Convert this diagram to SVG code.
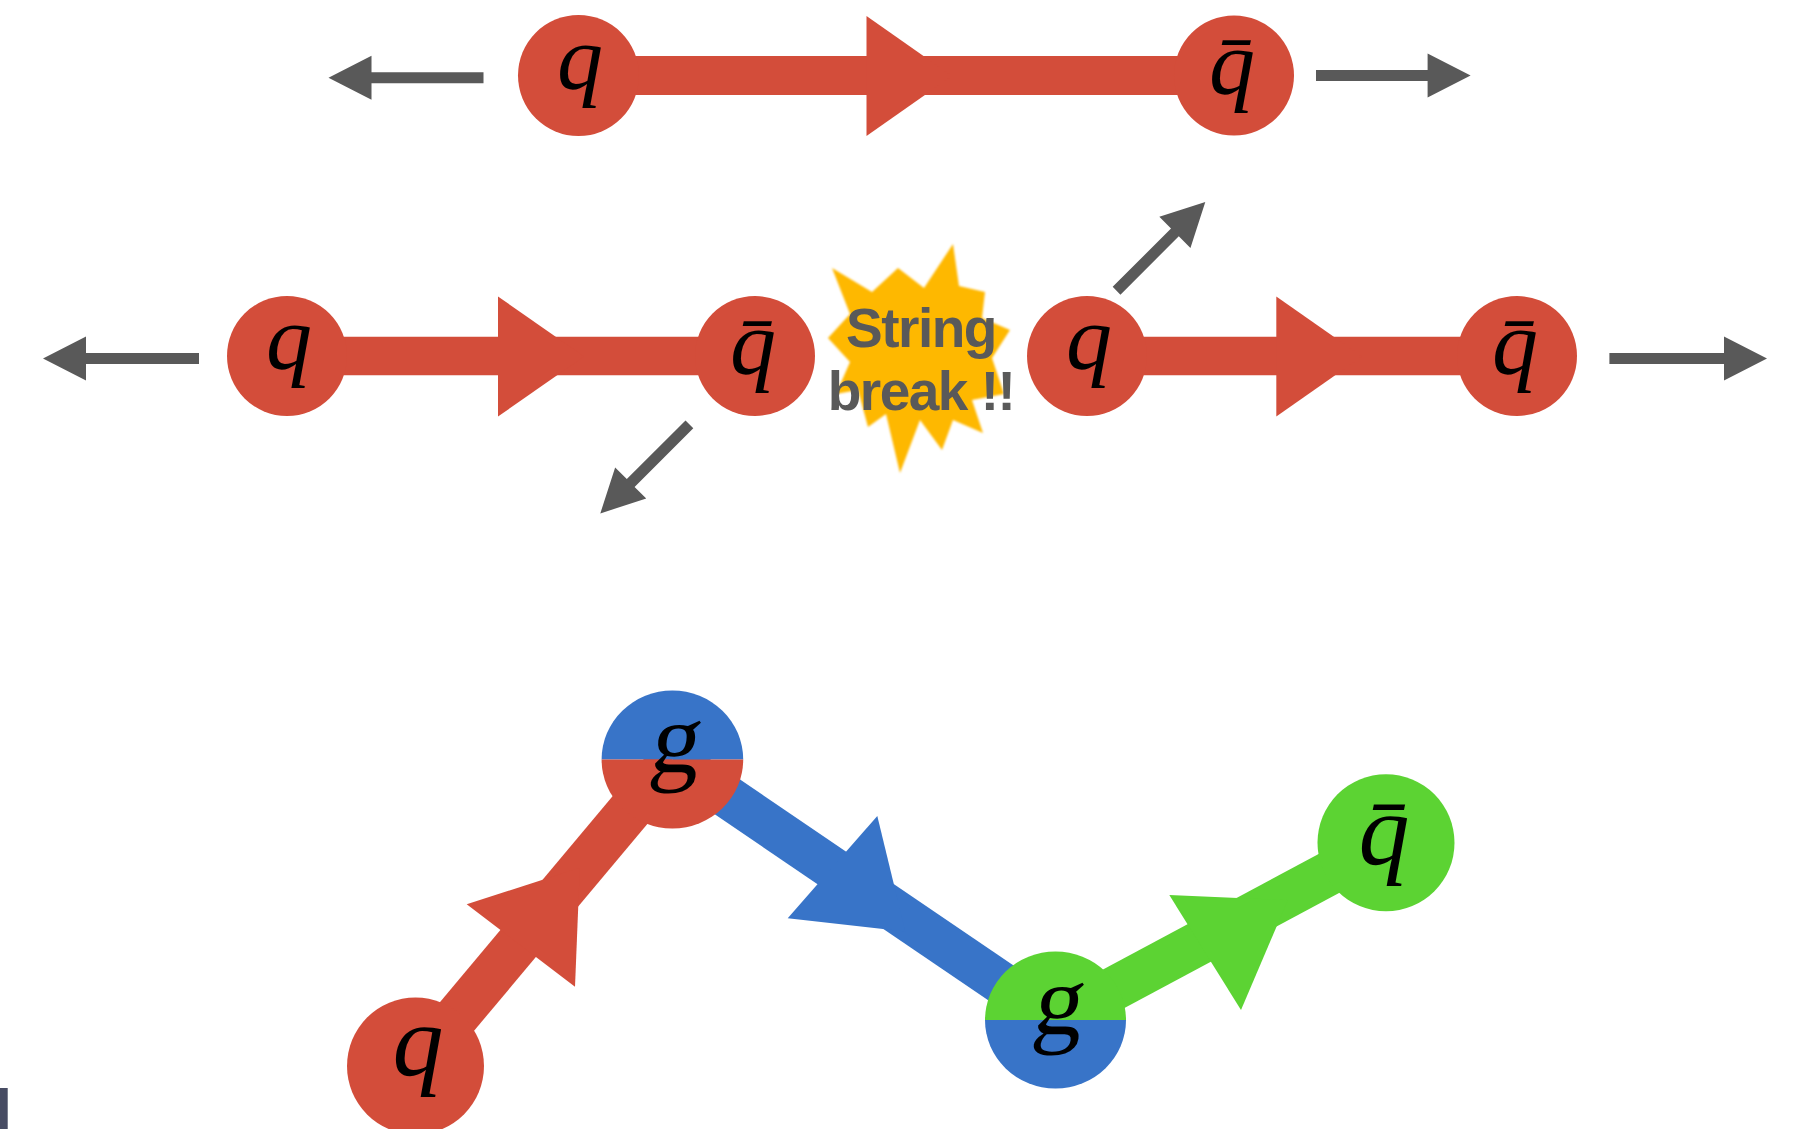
<svg xmlns="http://www.w3.org/2000/svg" xmlns:xlink="http://www.w3.org/1999/xlink" width="1793" height="1129" viewBox="0 0 1793 1129">
  <defs>
    <style>
      .red { fill: #D34D3A; }
      .blue { fill: #3874C8; }
      .green { fill: #5CD333; }
      .band-red { stroke: #D34D3A; fill: none; }
      .band-blue { stroke: #3874C8; fill: none; }
      .band-green { stroke: #5CD333; fill: none; }
      .push { fill: #595959; }
      .lbl { font-family: "Liberation Serif", "Times New Roman", serif; font-style: italic; fill: #000; text-anchor: middle; }
      .glbl { font-family: "Liberation Serif", "Times New Roman", serif; fill: #000; text-anchor: middle; }
      .burst-txt { font-family: "Liberation Sans", Arial, sans-serif; font-weight: bold; font-size: 55px; fill: #595959; text-anchor: middle; letter-spacing: -1.5px; }
    </style>
    <filter id="soft" x="-10%" y="-10%" width="120%" height="120%">
      <feGaussianBlur stdDeviation="1.2"/>
    </filter>
  </defs>

  <!-- string segments (behind the partons) -->
  <g id="connectors">
    <!-- top: q -> qbar -->
    <line class="band-red" x1="578.5" y1="75.5" x2="1234" y2="75.5" stroke-width="39"/>
    <polygon class="red" points="866.5,16 866.5,136 952,76"/>
    <!-- middle left -->
    <line class="band-red" x1="287" y1="356" x2="755" y2="356" stroke-width="38.6"/>
    <polygon class="red" points="498,296.5 498,416.5 584,356.5"/>
    <!-- middle right -->
    <line class="band-red" x1="1087" y1="356" x2="1517" y2="356" stroke-width="38.6"/>
    <polygon class="red" points="1276.3,296.5 1276.3,416.5 1362,356.5"/>
    <!-- bottom: q -> g -> g -> qbar -->
    <line class="band-red" x1="415.5" y1="1066" x2="672.4" y2="759.5" stroke-width="44.5"/>
    <polygon class="red" points="466.7,904.3 575,986.7 579.8,867.8"/>
    <line class="band-blue" x1="672.4" y1="759.5" x2="1055.5" y2="1020" stroke-width="43"/>
    <polygon class="blue" points="877.3,816 787.7,918.3 905.3,931.5"/>
    <line class="band-green" x1="1055.5" y1="1020" x2="1386" y2="842.8" stroke-width="44"/>
    <polygon class="green" points="1169.3,895 1241,1010 1287.9,900.1"/>

    <!-- momentum arrows -->
    <polygon class="push" transform="translate(328.5,77.7) rotate(180)" points="0,0 -43,-22 -43,-5.5 -155,-5.5 -155,5.5 -43,5.5 -43,22"/>
    <polygon class="push" transform="translate(1470.6,75.5)" points="0,0 -43,-22 -43,-5.5 -154.6,-5.5 -154.6,5.5 -43,5.5 -43,22"/>
    <polygon class="push" transform="translate(43,358.5) rotate(180)" points="0,0 -43,-22 -43,-5.5 -156,-5.5 -156,5.5 -43,5.5 -43,22"/>
    <polygon class="push" transform="translate(1767,358.5)" points="0,0 -43,-22 -43,-5.5 -157.6,-5.5 -157.6,5.5 -43,5.5 -43,22"/>
    <polygon class="push" transform="translate(600.3,513.4) rotate(135)" points="0,0 -43,-22 -43,-5.5 -126,-5.5 -126,5.5 -43,5.5 -43,22"/>
    <polygon class="push" transform="translate(1205.3,202) rotate(-45)" points="0,0 -43,-22 -43,-5.5 -125.5,-5.5 -125.5,5.5 -43,5.5 -43,22"/>
  </g>

  <!-- top row -->
  <g id="q-top">
    <circle class="red" cx="578.5" cy="75.5" r="60.5"/>
    <text class="lbl" x="580" y="88.5" font-size="92">q</text>
  </g>
  <g id="qbar-top">
    <circle class="red" cx="1234" cy="75.5" r="60"/>
    <text class="lbl" x="1232" y="93.5" font-size="92">q̄</text>
  </g>

  <!-- middle row -->
  <g id="q-mid-left">
    <circle class="red" cx="287" cy="356" r="60"/>
    <text class="lbl" x="289" y="369" font-size="92">q</text>
  </g>
  <g id="qbar-mid-left">
    <circle class="red" cx="755" cy="356" r="60"/>
    <text class="lbl" x="753" y="374" font-size="92">q̄</text>
  </g>
  <g id="q-mid-right">
    <circle class="red" cx="1087" cy="356" r="60"/>
    <text class="lbl" x="1089" y="369" font-size="92">q</text>
  </g>
  <g id="qbar-mid-right">
    <circle class="red" cx="1517" cy="356" r="60"/>
    <text class="lbl" x="1515" y="374" font-size="92">q̄</text>
  </g>

  <!-- string break burst -->
  <g id="string-break">
    <polygon fill="#FEB800" filter="url(#soft)" points="953,244 959,286 985,292 982,318 1010,330 992,358 1004,394 972,400 983,433 953,420 942,450 920,420 900,473 886,414 868,427 858,390 836,394 850,362 828,338 850,314 832,268 872,292 898,268 924,288"/>
    <text class="burst-txt" x="921" y="346.5">String</text>
    <text class="burst-txt" x="921" y="410">break !!</text>
  </g>

  <!-- bottom: q g g qbar -->
  <g id="q-bottom">
    <circle class="red" cx="415.5" cy="1066" r="68.5"/>
    <text class="lbl" x="418" y="1075" font-size="102">q</text>
  </g>
  <g id="g-one">
    <path class="blue" d="M601.6,759.5 A70.8,69 0 0 1 743.2,759.5 Z"/>
    <path class="red" d="M601.6,759.5 A70.8,69 0 0 0 743.2,759.5 Z"/>
    <text class="glbl" transform="translate(673,772) skewX(-8)" font-size="100">g</text>
  </g>
  <g id="g-two">
    <path class="green" d="M985,1020 A70.5,68.5 0 0 1 1126,1020 Z"/>
    <path class="blue" d="M985,1020 A70.5,68.5 0 0 0 1126,1020 Z"/>
    <text class="glbl" transform="translate(1056,1034) skewX(-8)" font-size="100">g</text>
  </g>
  <g id="qbar-bottom">
    <circle class="green" cx="1386" cy="842.8" r="68.5"/>
    <text class="lbl" x="1384" y="864" font-size="102">q̄</text>
  </g>

  <!-- edge strip at the lower left -->
  <rect x="0" y="1088" width="7.7" height="41" fill="#474C63"/>
</svg>
